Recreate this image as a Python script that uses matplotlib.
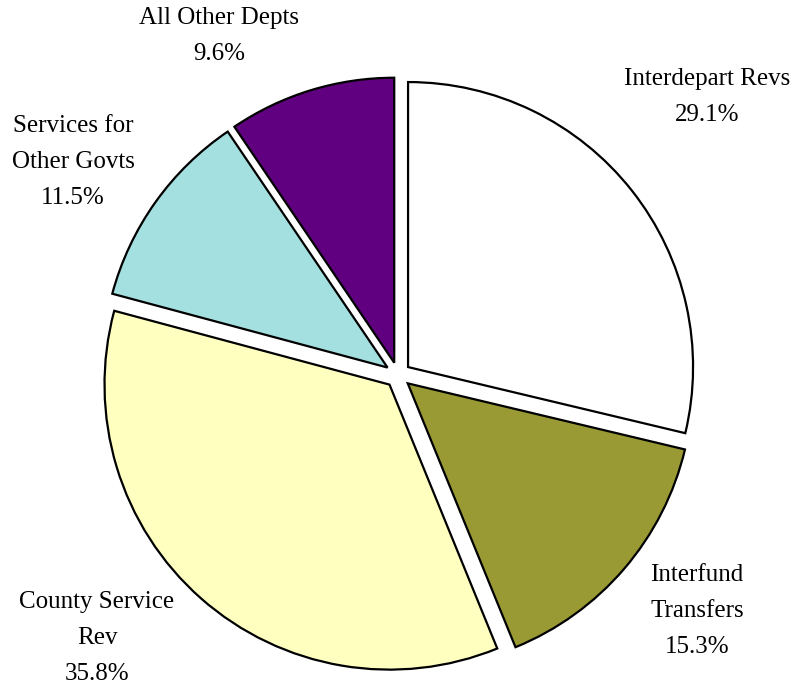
import matplotlib.pyplot as plt

# data
labels = ['Interdepart Revs', 'Interfund\nTransfers', 'County Service\nRev',
          'Services for\nOther Govts', 'All Other Depts']
shares = [29.1, 15.3, 35.8, 11.5, 9.6]
colors = ['#FFFFFF', '#9A9A35', '#FFFFC0', '#A5E0E0', '#600080']

# label centres in pixels (x, y from top)
label_px = [(707, 97), (697, 611), (97, 638), (73, 162), (219, 36)]

W, H = 795, 686
cx, cy, R = 398, 375, 285

fig = plt.figure(figsize=(W / 100, H / 100), dpi=100)
ax = fig.add_axes([0, 0, 1, 1])

ax.pie(shares, colors=colors, startangle=90, counterclock=False,
       explode=[0.045] * len(shares),
       wedgeprops=dict(edgecolor='black', linewidth=1.6))

ax.set_xlim(-cx / R, (W - cx) / R)
ax.set_ylim(-(H - cy) / R, cy / R)
ax.set_aspect('equal')
ax.axis('off')

for lab, val, (px, py) in zip(labels, shares, label_px):
    ax.text((px - cx) / R, (cy - py) / R, f'{lab}\n{val:.1f}%',
            ha='center', va='center', fontsize=18, linespacing=1.8,
            family='Liberation Serif')

fig.savefig('out.png', dpi=100)
